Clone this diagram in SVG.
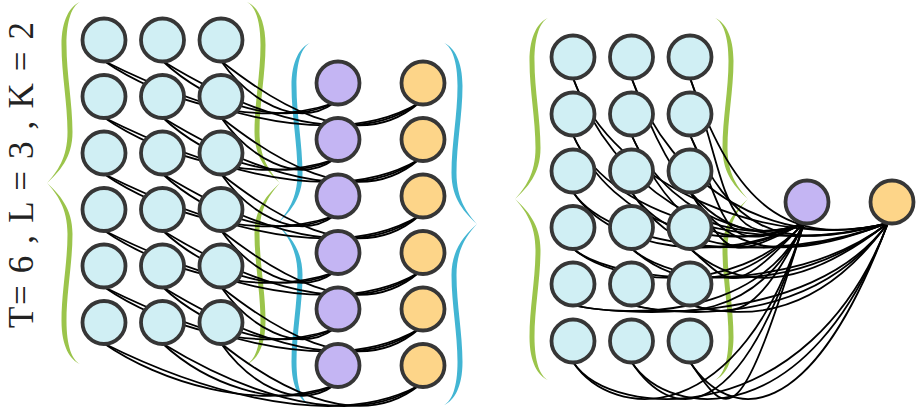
<svg xmlns="http://www.w3.org/2000/svg" xmlns:xlink="http://www.w3.org/1999/xlink" width="918" height="416" viewBox="0 0 918 416">
  <style>
    .h { fill: #D0EFF4; stroke: #363636; stroke-width: 3.8; }
    .p { fill: #C4B5F3; stroke: #363636; stroke-width: 3.8; }
    .o { fill: #FDD589; stroke: #363636; stroke-width: 3.8; }
    .edges path { fill: none; stroke: #000; stroke-width: 1.8; }
    .green { fill: #9BC44B; }
    .blue { fill: #42B5D3; }
    .label { font-family: "Liberation Serif", "Times New Roman", serif; font-size: 35px; fill: #222; }
  </style>
  <defs>
    <!-- tapered curly brace, 362 tall, tip pointing right -->
    <path id="brace" d="M0,0 C10,4 18.5,18 18.5,43 C18.5,72 12.5,101 12.5,130 C12.5,156 23,170 33,181 C23,192 12.5,206 12.5,232 C12.5,261 18.5,290 18.5,319 C18.5,344 10,358 0,362 C8,358 13.5,344 13.5,319 C13.5,290 7.5,261 7.5,232 C7.5,206 21,192 33,181 C21,170 7.5,156 7.5,130 C7.5,101 13.5,72 13.5,43 C13.5,18 8,4 0,0 Z"/>
  </defs>

  <!-- braces -->
  <g id="braces">
    <use xlink:href="#brace" class="green" transform="translate(80,2) scale(-1,1)"/>
    <use xlink:href="#brace" class="green" transform="translate(247,2)"/>
    <use xlink:href="#brace" class="blue" transform="translate(310,43) scale(-1,1)"/>
    <use xlink:href="#brace" class="blue" transform="translate(444,43)"/>
    <use xlink:href="#brace" class="green" transform="translate(548,18) scale(-1,1)"/>
    <use xlink:href="#brace" class="green" transform="translate(715,18)"/>
  </g>

  <!-- connectors -->
  <g id="connectors" class="edges">
    <!-- left: hidden units of step t to both outputs of step t -->
    <path d="M104,61 C159,99 256,130 334,103"/>
    <path d="M104,61 C180,99 325,158 419,103"/>
    <path d="M162.5,61 C203.5,99 276,130 334,103"/>
    <path d="M162.5,61 C224.5,99 340,158 419,103"/>
    <path d="M221,61 C248,99 296,130 334,103"/>
    <path d="M221,61 C269,99 355,158 419,103"/>

    <path d="M104,117.5 C159,155.5 256,186.5 334,159.5"/>
    <path d="M104,117.5 C180,155.5 325,214.5 419,159.5"/>
    <path d="M162.5,117.5 C203.5,155.5 276,186.5 334,159.5"/>
    <path d="M162.5,117.5 C224.5,155.5 340,214.5 419,159.5"/>
    <path d="M221,117.5 C248,155.5 296,186.5 334,159.5"/>
    <path d="M221,117.5 C269,155.5 355,214.5 419,159.5"/>

    <path d="M104,174 C159,212 256,243 334,216"/>
    <path d="M104,174 C180,212 325,271 419,216"/>
    <path d="M162.5,174 C203.5,212 276,243 334,216"/>
    <path d="M162.5,174 C224.5,212 340,271 419,216"/>
    <path d="M221,174 C248,212 296,243 334,216"/>
    <path d="M221,174 C269,212 355,271 419,216"/>

    <path d="M104,230.5 C159,268.5 256,299.5 334,272.5"/>
    <path d="M104,230.5 C180,268.5 325,327.5 419,272.5"/>
    <path d="M162.5,230.5 C203.5,268.5 276,299.5 334,272.5"/>
    <path d="M162.5,230.5 C224.5,268.5 340,327.5 419,272.5"/>
    <path d="M221,230.5 C248,268.5 296,299.5 334,272.5"/>
    <path d="M221,230.5 C269,268.5 355,327.5 419,272.5"/>

    <path d="M104,287 C159,325 256,356 334,329"/>
    <path d="M104,287 C180,325 325,384 419,329"/>
    <path d="M162.5,287 C203.5,325 276,356 334,329"/>
    <path d="M162.5,287 C224.5,325 340,384 419,329"/>
    <path d="M221,287 C248,325 296,356 334,329"/>
    <path d="M221,287 C269,325 355,384 419,329"/>

    <path d="M104,343.5 C159,381.5 256,412.5 334,385.5"/>
    <path d="M104,343.5 C180,381.5 325,436 419,385.5"/>
    <path d="M162.5,343.5 C203.5,381.5 276,412.5 334,385.5"/>
    <path d="M162.5,343.5 C224.5,381.5 340,436 419,385.5"/>
    <path d="M221,343.5 C248,381.5 296,412.5 334,385.5"/>
    <path d="M221,343.5 C269,381.5 355,436 419,385.5"/>

    <!-- right: every hidden unit to the two pooled outputs -->
    <path d="M573,78 C613,188 720,255 804,223"/>
    <path d="M573,78 C613,188 775,252 888,223"/>
    <path d="M631.5,78 C671.5,188 720,255 804,223"/>
    <path d="M631.5,78 C671.5,188 775,252 888,223"/>
    <path d="M690,78 C730,188 720,255 804,223"/>
    <path d="M690,78 C730,188 775,252 888,223"/>

    <path d="M573,135 C613,225 720,258 804,223"/>
    <path d="M573,135 C613,225 775,256 888,223"/>
    <path d="M631.5,135 C671.5,225 720,258 804,223"/>
    <path d="M631.5,135 C671.5,225 775,256 888,223"/>
    <path d="M690,135 C730,225 720,258 804,223"/>
    <path d="M690,135 C730,225 775,256 888,223"/>

    <path d="M573,192 C613,252 722,265 804,223"/>
    <path d="M573,192 C613,252 780,265 888,223"/>
    <path d="M631.5,192 C671.5,252 722,265 804,223"/>
    <path d="M631.5,192 C671.5,252 780,265 888,223"/>
    <path d="M690,192 C730,252 722,265 804,223"/>
    <path d="M690,192 C730,252 780,265 888,223"/>

    <path d="M573,248.5 C613,283.5 732,300 804,223"/>
    <path d="M573,248.5 C613,283.5 790,300 888,223"/>
    <path d="M631.5,248.5 C671.5,283.5 732,300 804,223"/>
    <path d="M631.5,248.5 C671.5,283.5 790,300 888,223"/>
    <path d="M690,248.5 C730,283.5 732,300 804,223"/>
    <path d="M690,248.5 C730,283.5 790,300 888,223"/>

    <path d="M573,305 C613,315 755,325 804,223"/>
    <path d="M573,305 C613,315 810,330 888,223"/>
    <path d="M631.5,305 C671.5,315 755,325 804,223"/>
    <path d="M631.5,305 C671.5,315 810,330 888,223"/>
    <path d="M690,305 C730,315 755,325 804,223"/>
    <path d="M690,305 C730,315 810,330 888,223"/>

    <path d="M573,362 C613,422 740,430 804,223"/>
    <path d="M573,362 C613,422 810,430 888,223"/>
    <path d="M631.5,362 C671.5,422 740,430 804,223"/>
    <path d="M631.5,362 C671.5,422 810,430 888,223"/>
    <path d="M690,362 C730,422 740,430 804,223"/>
    <path d="M690,362 C730,422 810,430 888,223"/>
  </g>

  <!-- left network: hidden units -->
  <g id="h-0-0"><circle class="h" cx="104" cy="40" r="21.5"/></g>
  <g id="h-0-1"><circle class="h" cx="162.5" cy="40" r="21.5"/></g>
  <g id="h-0-2"><circle class="h" cx="221" cy="40" r="21.5"/></g>
  <g id="h-1-0"><circle class="h" cx="104" cy="96.5" r="21.5"/></g>
  <g id="h-1-1"><circle class="h" cx="162.5" cy="96.5" r="21.5"/></g>
  <g id="h-1-2"><circle class="h" cx="221" cy="96.5" r="21.5"/></g>
  <g id="h-2-0"><circle class="h" cx="104" cy="153" r="21.5"/></g>
  <g id="h-2-1"><circle class="h" cx="162.5" cy="153" r="21.5"/></g>
  <g id="h-2-2"><circle class="h" cx="221" cy="153" r="21.5"/></g>
  <g id="h-3-0"><circle class="h" cx="104" cy="209.5" r="21.5"/></g>
  <g id="h-3-1"><circle class="h" cx="162.5" cy="209.5" r="21.5"/></g>
  <g id="h-3-2"><circle class="h" cx="221" cy="209.5" r="21.5"/></g>
  <g id="h-4-0"><circle class="h" cx="104" cy="266" r="21.5"/></g>
  <g id="h-4-1"><circle class="h" cx="162.5" cy="266" r="21.5"/></g>
  <g id="h-4-2"><circle class="h" cx="221" cy="266" r="21.5"/></g>
  <g id="h-5-0"><circle class="h" cx="104" cy="322.5" r="21.5"/></g>
  <g id="h-5-1"><circle class="h" cx="162.5" cy="322.5" r="21.5"/></g>
  <g id="h-5-2"><circle class="h" cx="221" cy="322.5" r="21.5"/></g>

  <!-- left network: outputs per step -->
  <g id="p-0"><circle class="p" cx="338" cy="83" r="21.5"/></g>
  <g id="p-1"><circle class="p" cx="338" cy="139.5" r="21.5"/></g>
  <g id="p-2"><circle class="p" cx="338" cy="196" r="21.5"/></g>
  <g id="p-3"><circle class="p" cx="338" cy="252.5" r="21.5"/></g>
  <g id="p-4"><circle class="p" cx="338" cy="309" r="21.5"/></g>
  <g id="p-5"><circle class="p" cx="338" cy="365.5" r="21.5"/></g>
  <g id="o-0"><circle class="o" cx="423" cy="83" r="21.5"/></g>
  <g id="o-1"><circle class="o" cx="423" cy="139.5" r="21.5"/></g>
  <g id="o-2"><circle class="o" cx="423" cy="196" r="21.5"/></g>
  <g id="o-3"><circle class="o" cx="423" cy="252.5" r="21.5"/></g>
  <g id="o-4"><circle class="o" cx="423" cy="309" r="21.5"/></g>
  <g id="o-5"><circle class="o" cx="423" cy="365.5" r="21.5"/></g>

  <!-- right network: hidden units -->
  <g id="rh-0-0"><circle class="h" cx="573" cy="57" r="21.5"/></g>
  <g id="rh-0-1"><circle class="h" cx="631.5" cy="57" r="21.5"/></g>
  <g id="rh-0-2"><circle class="h" cx="690" cy="57" r="21.5"/></g>
  <g id="rh-1-0"><circle class="h" cx="573" cy="114" r="21.5"/></g>
  <g id="rh-1-1"><circle class="h" cx="631.5" cy="114" r="21.5"/></g>
  <g id="rh-1-2"><circle class="h" cx="690" cy="114" r="21.5"/></g>
  <g id="rh-2-0"><circle class="h" cx="573" cy="171" r="21.5"/></g>
  <g id="rh-2-1"><circle class="h" cx="631.5" cy="171" r="21.5"/></g>
  <g id="rh-2-2"><circle class="h" cx="690" cy="171" r="21.5"/></g>
  <g id="rh-3-0"><circle class="h" cx="573" cy="227.5" r="21.5"/></g>
  <g id="rh-3-1"><circle class="h" cx="631.5" cy="227.5" r="21.5"/></g>
  <g id="rh-3-2"><circle class="h" cx="690" cy="227.5" r="21.5"/></g>
  <g id="rh-4-0"><circle class="h" cx="573" cy="284" r="21.5"/></g>
  <g id="rh-4-1"><circle class="h" cx="631.5" cy="284" r="21.5"/></g>
  <g id="rh-4-2"><circle class="h" cx="690" cy="284" r="21.5"/></g>
  <g id="rh-5-0"><circle class="h" cx="573" cy="341" r="21.5"/></g>
  <g id="rh-5-1"><circle class="h" cx="631.5" cy="341" r="21.5"/></g>
  <g id="rh-5-2"><circle class="h" cx="690" cy="341" r="21.5"/></g>

  <!-- right network: pooled outputs -->
  <g id="rp"><circle class="p" cx="807" cy="202" r="21.5"/></g>
  <g id="ro"><circle class="o" cx="892" cy="202" r="21.5"/></g>

  <text class="label" transform="translate(33,328) rotate(-90)" textLength="306" lengthAdjust="spacing">T= 6 , L = 3 , K = 2</text>
</svg>
